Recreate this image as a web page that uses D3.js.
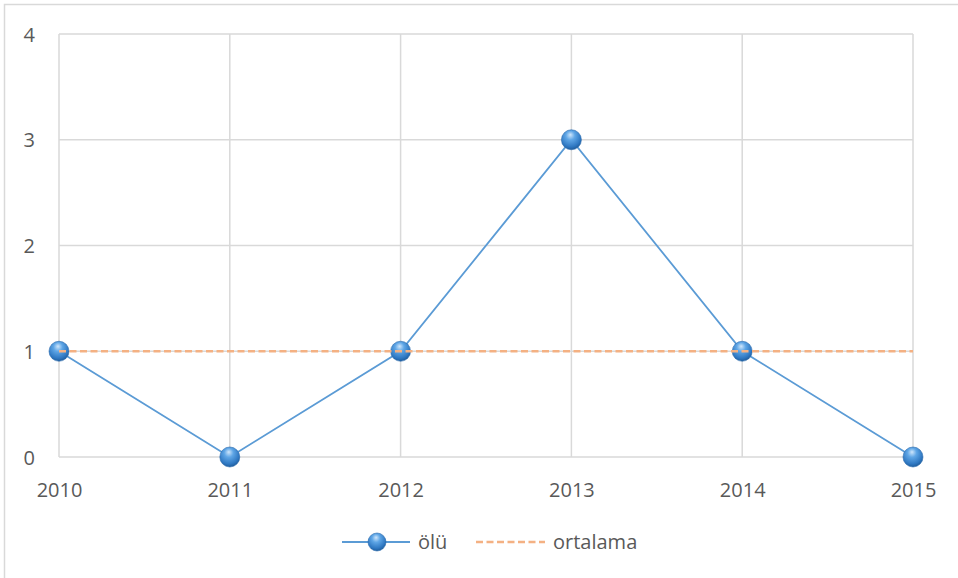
<!DOCTYPE html>
<html>
<head>
<meta charset="utf-8">
<script src="https://cdn.jsdelivr.net/npm/d3@7"></script>
<style>
  body { margin: 0; background: #fff; }
  text { font-family: "Open Sans", "Noto Sans", "DejaVu Sans", sans-serif; fill: #595959; }
</style>
</head>
<body>
<script>
// ---- data ----
var years = [2010, 2011, 2012, 2013, 2014, 2015];
var olu = [1, 0, 1, 3, 1, 0];
var ortalama = [1, 1, 1, 1, 1, 1];
var yTicks = [0, 1, 2, 3, 4];
var seriesNames = ["ölü", "ortalama"];

var W = 958, H = 578;
var margin = {top: 34, right: 45, bottom: 121, left: 59};
var width = W - margin.left - margin.right,
    height = H - margin.top - margin.bottom;

var svg = d3.select("body").append("svg")
  .attr("width", W).attr("height", H);

// chart border
svg.append("rect")
  .attr("x", 4.5).attr("y", 4.5)
  .attr("width", W + 10).attr("height", H + 10)
  .attr("fill", "none").attr("stroke", "#d9d9d9").attr("stroke-width", 1.5);

var defs = svg.append("defs");
var grad = defs.append("radialGradient")
  .attr("id", "ball").attr("cx", "45%").attr("cy", "35%").attr("r", "65%")
  .attr("fx", "45%").attr("fy", "25%");
grad.append("stop").attr("offset", "0%").attr("stop-color", "#cfe6fb");
grad.append("stop").attr("offset", "35%").attr("stop-color", "#5fa6e6");
grad.append("stop").attr("offset", "80%").attr("stop-color", "#2f78c2");
grad.append("stop").attr("offset", "100%").attr("stop-color", "#1f5d9c");

var g = svg.append("g").attr("transform", "translate(" + margin.left + "," + margin.top + ")");

var x = d3.scalePoint().domain(years).range([0, width]);
var y = d3.scaleLinear().domain([0, 4]).range([height, 0]);

// gridlines
g.selectAll("line.hgrid").data(yTicks).enter().append("line")
  .attr("class", "hgrid")
  .attr("x1", 0).attr("x2", width)
  .attr("y1", function(d) { return y(d); }).attr("y2", function(d) { return y(d); })
  .attr("stroke", "#d9d9d9").attr("stroke-width", 1.5);
g.selectAll("line.vgrid").data(years).enter().append("line")
  .attr("class", "vgrid")
  .attr("x1", function(d) { return x(d); }).attr("x2", function(d) { return x(d); })
  .attr("y1", 0).attr("y2", height)
  .attr("stroke", "#d9d9d9").attr("stroke-width", 1.5);

// axes
var yAxis = g.append("g").call(d3.axisLeft(y).tickValues(yTicks).tickFormat(d3.format("d")).tickSize(0).tickPadding(24));
yAxis.select(".domain").remove();
yAxis.selectAll("text").style("font-size", "20px").style("fill", "#595959").attr("dy", "0.36em");

var xAxis = g.append("g").attr("transform", "translate(0," + height + ")")
  .call(d3.axisBottom(x).tickSize(0).tickPadding(26));
xAxis.select(".domain").remove();
xAxis.selectAll("text").style("font-size", "20px").style("fill", "#595959");

// series line
var line = d3.line().x(function(d, i) { return x(years[i]); }).y(function(d) { return y(d); });
g.append("path").datum(olu)
  .attr("d", line).attr("fill", "none")
  .attr("stroke", "#5b9bd5").attr("stroke-width", 1.8);

g.selectAll("circle.pt").data(olu).enter().append("circle")
  .attr("class", "pt")
  .attr("cx", function(d, i) { return x(years[i]); })
  .attr("cy", function(d) { return y(d); })
  .attr("r", 10)
  .attr("fill", "url(#ball)")
  .attr("stroke", "#2a6aad").attr("stroke-width", 0.6);

// average dashed line
g.append("path").datum(ortalama)
  .attr("d", line).attr("fill", "none")
  .attr("stroke", "#f4b183").attr("stroke-width", 2.5)
  .attr("stroke-dasharray", "7,3.5");

// legend
var leg = svg.append("g").attr("transform", "translate(0,542)");
leg.append("line").attr("x1", 342).attr("x2", 410).attr("y1", 0).attr("y2", 0)
  .attr("stroke", "#5b9bd5").attr("stroke-width", 1.8);
leg.append("circle").attr("cx", 377).attr("cy", 0).attr("r", 9)
  .attr("fill", "url(#ball)").attr("stroke", "#2a6aad").attr("stroke-width", 0.6);
leg.append("text").attr("x", 418).attr("y", 0).attr("dy", "0.35em")
  .style("font-size", "20px").text(seriesNames[0]);
leg.append("line").attr("x1", 476).attr("x2", 545).attr("y1", 0).attr("y2", 0)
  .attr("stroke", "#f4b183").attr("stroke-width", 2.5).attr("stroke-dasharray", "7,3.5");
leg.append("text").attr("x", 553).attr("y", 0).attr("dy", "0.35em")
  .style("font-size", "20px").text(seriesNames[1]);
</script>
</body>
</html>
